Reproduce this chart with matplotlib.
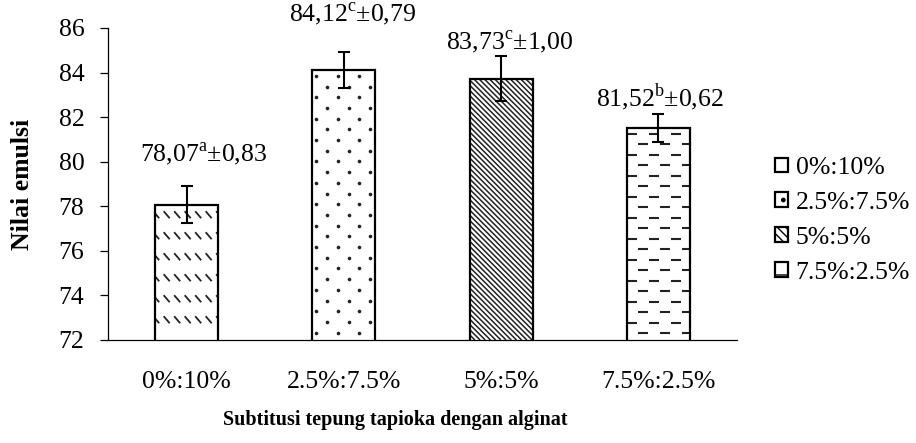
import matplotlib
matplotlib.use("Agg")
import matplotlib.pyplot as plt
import numpy as np
from matplotlib.collections import LineCollection
from matplotlib.patches import Patch

plt.rcParams['font.family'] = ['Liberation Serif', 'DejaVu Serif']
plt.rcParams['mathtext.fontset'] = 'custom'
plt.rcParams['mathtext.rm'] = 'Liberation Serif'
plt.rcParams['hatch.linewidth'] = 1.0

# emulsion value per tapioca:alginate substitution
treatments = ['0%:10%', '2.5%:7.5%', '5%:5%', '7.5%:2.5%']
means = [78.07, 84.12, 83.73, 81.52]
sds = [0.83, 0.79, 1.00, 0.62]
letters = ['a', 'c', 'c', 'b']

yticks = [72, 74, 76, 78, 80, 82, 84, 86]
patterns = ['dashdiag', 'dots', 'diag', 'hdash']
legend_hatch = ['\\', '.', '\\\\\\\\', '-']

FS = 18.5
DPI = 100

fig = plt.figure(figsize=(9.16, 4.43), dpi=DPI)
ax = fig.add_axes([108 / 916, 1 - 340 / 443, 629 / 916, 312 / 443])

x = np.arange(len(treatments))
bars = ax.bar(x, means, width=0.4, color='white', edgecolor='none', zorder=2)
ax.bar(x, means, width=0.4, fill=False, edgecolor='black', linewidth=1.6, zorder=3)
ax.errorbar(x, means, yerr=sds, fmt='none', ecolor='black', elinewidth=1.5,
            capsize=4.2, capthick=1.5, zorder=4)

ax.set_xlim(-0.5, 3.5)
ax.set_ylim(72, 86)
ax.set_yticks(yticks)
ax.set_xticks(x)
ax.set_xticklabels(treatments, fontsize=FS)
ax.tick_params(axis='x', length=0, pad=22)
ax.tick_params(axis='y', length=6, width=0.9, pad=11, labelsize=FS, direction='out')
for s in ['top', 'right']:
    ax.spines[s].set_visible(False)
for s in ['left', 'bottom']:
    ax.spines[s].set_linewidth(0.9)

to_data = ax.transData.inverted()


def pattern_fill(bar, kind):
    # pattern laid out in pixels, converted to data units, clipped to the bar
    ybot = max(bar.get_y(), ax.get_ylim()[0])
    (x0, y0) = ax.transData.transform((bar.get_x(), ybot))
    (x1, y1) = ax.transData.transform((bar.get_x() + bar.get_width(),
                                       bar.get_y() + bar.get_height()))
    clip = (bar.get_path(), bar.get_patch_transform() + ax.transData)
    segs = []
    lw = 1.0
    if kind == 'dashdiag':
        for yy in np.arange(y1 - 10, y0 + 2, -21):
            for xx in np.arange(x0 - 2, x1 + 4, 10.5):
                segs.append([(xx, yy + 3.5), (xx + 6, yy - 3.5)])
        lw = 1.3
    elif kind == 'diag':
        h = y1 - y0
        for c in np.arange(x0 - h, x1 + 5, 5.2):
            segs.append([(c, y1), (c + h, y0)])
        lw = 1.1
    elif kind == 'hdash':
        for i, yy in enumerate(np.arange(y1 - 6, y0, -10.5)):
            off = 0 if i % 2 == 0 else 11
            for xx in np.arange(x0 - 22 + off, x1 + 22, 22):
                segs.append([(xx, yy), (xx + 10, yy)])
        lw = 1.5
    elif kind == 'dots':
        pts = []
        for i, yy in enumerate(np.arange(y1 - 6, y0 + 2, -10.7)):
            off = 0 if i % 2 == 0 else 10.75
            for xx in np.arange(x0 + 4 + off, x1, 21.5):
                pts.append((xx, yy))
        pts = to_data.transform(np.array(pts))
        ln, = ax.plot(pts[:, 0], pts[:, 1], 'o', ms=2.6, color='#222222',
                      mec='none', zorder=2.5)
        ln.set_clip_path(*clip)
        return
    segs = [to_data.transform(np.array(s)) for s in segs]
    lc = LineCollection(segs, colors='#222222', linewidths=lw, zorder=2.5)
    ax.add_collection(lc, autolim=False)
    lc.set_clip_path(*clip)


for b, k in zip(bars, patterns):
    pattern_fill(b, k)
ax.set_xlim(-0.5, 3.5)
ax.set_ylim(72, 86)

# value labels
label_dy = [36, 40, 26, 22]
label_dx = [12, 6, 6, 1]
for i in range(len(means)):
    txt = (f'{means[i]:.2f}'.replace('.', ',') + r'$^{\mathrm{' + letters[i] + '}}$'
           + '±' + f'{sds[i]:.2f}'.replace('.', ','))
    ax.annotate(txt, (x[i], means[i]), xytext=(label_dx[i], label_dy[i]),
                textcoords='offset points', ha='center', va='center', fontsize=FS,
                annotation_clip=False)

fig.text(23 / 916, 1 - 184 / 443, 'Nilai emulsi', rotation=90, ha='center',
         va='center', fontsize=18.5, fontweight='bold')
fig.text(395 / 916, 1 - 420 / 443, 'Subtitusi tepung tapioka dengan alginat',
         ha='center', va='center', fontsize=14.5, fontweight='bold')

handles = [Patch(facecolor='white', edgecolor='black', linewidth=1.6, hatch=h)
           for h in legend_hatch]
fig.legend(handles, treatments, loc='upper left', bbox_to_anchor=(775 / 916, 1 - 157 / 443),
           frameon=False, fontsize=FS, handlelength=0.5, handleheight=0.5,
           handletextpad=0.3, labelspacing=0.5, borderaxespad=0, borderpad=0)

fig.savefig('out.png', dpi=DPI)
